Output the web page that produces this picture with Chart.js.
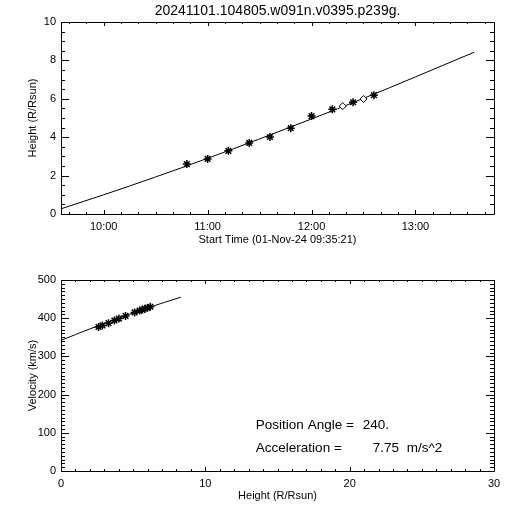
<!DOCTYPE html>
<html>
<head>
<meta charset="utf-8">
<script src="https://cdn.jsdelivr.net/npm/chart.js@4.4.0/dist/chart.umd.min.js"></script>
<style>
html, body { margin: 0; padding: 0; background: #fff; }
#wrap { position: relative; width: 512px; height: 512px; }
.box { position: absolute; left: 0; width: 512px; height: 256px; }
</style>
</head>
<body>
<div id="wrap">
  <div class="box" style="top:0"><canvas id="ht"></canvas></div>
  <div class="box" style="top:256px"><canvas id="vh"></canvas></div>
</div>
<script>
// --- data ---
const plotTitle = '20241101.104805.w091n.v0395.p239g.';
const startTime = '09:35:21';
const endTime = '13:45:21';

// height-time measurements (asterisks)
const obsTimes = ['10:48', '11:00', '11:12', '11:24', '11:36', '11:48', '12:00', '12:12', '12:24', '12:36'];
const obsHeights = [2.60, 2.87, 3.29, 3.70, 4.01, 4.47, 5.10, 5.45, 5.82, 6.19];
// diamonds
const extraTimes = ['12:18', '12:30'];
const extraHeights = [5.62, 5.99];
// fitted curve
const fitTimes = ['09:35:21', '10:00', '10:30', '11:00', '11:30', '12:00', '12:30', '13:00', '13:34'];
const fitHeights = [0.27, 1.00, 1.93, 2.90, 3.91, 4.95, 6.02, 7.14, 8.43];

// velocity vs height
const velHeights = [2.60, 2.87, 3.29, 3.70, 4.01, 4.47, 5.10, 5.45, 5.62, 5.82, 5.99, 6.19];
const velValues = [377, 381, 387, 394, 399, 406, 415, 420, 422, 425, 427, 430];
const velFitHeights = [0, 2, 4, 6, 8.3];
const velFitValues = [342, 372, 400, 427, 455];

const positionAngle = '240.';
const acceleration = '7.75';

// minutes since midnight
function toMin(s) {
    const p = s.split(':').map(Number);
    return p[0] * 60 + p[1] + (p[2] || 0) / 60;
}
function hhmm(v) {
    const h = Math.floor(v / 60), m = Math.round(v - h * 60);
    return String(h).padStart(2, '0') + ':' + String(m).padStart(2, '0');
}

const FONT = 'Liberation Sans, Arial, sans-serif';
const f11 = { family: FONT, size: 11, lineHeight: 1.2 };

// IDL style box with inward ticks on all four sides
const idlBox = {
    id: 'idlBox',
    afterDatasetsDraw(chart, args, o) {
        const { ctx, chartArea: a, scales: { x, y } } = chart;
        ctx.save();
        ctx.strokeStyle = '#000';
        ctx.lineWidth = 1;
        ctx.beginPath();
        ctx.rect(a.left + 0.5, a.top + 0.5, a.right - a.left, a.bottom - a.top);
        const marks = (scale, step, len, horiz) => {
            const n0 = Math.ceil(scale.min / step - 1e-6), n1 = Math.floor(scale.max / step + 1e-6);
            for (let n = n0; n <= n1; n++) {
                const p = Math.round(scale.getPixelForValue(n * step)) + 0.5;
                if (horiz) {
                    ctx.moveTo(p, a.bottom); ctx.lineTo(p, a.bottom - len);
                    ctx.moveTo(p, a.top); ctx.lineTo(p, a.top + len);
                } else {
                    ctx.moveTo(a.left, p); ctx.lineTo(a.left + len, p);
                    ctx.moveTo(a.right, p); ctx.lineTo(a.right - len, p);
                }
            }
        };
        marks(x, o.xMajor, 4, true);
        marks(x, o.xMinor, 2, true);
        marks(y, o.yMajor, 8, false);
        marks(y, o.yMinor, 4, false);
        ctx.stroke();
        ctx.restore();
    }
};

// annotation text in the lower panel
const notes = {
    id: 'notes',
    afterDraw(chart, args, o) {
        if (!o.items) return;
        const { ctx, scales: { x, y } } = chart;
        ctx.save();
        ctx.fillStyle = '#000';
        ctx.font = '13.5px ' + FONT;
        ctx.textBaseline = 'middle';
        o.items.forEach(l => ctx.fillText(l.text, x.getPixelForValue(l.x), y.getPixelForValue(l.y)));
        ctx.restore();
    }
};

const common = {
    responsive: true,
    maintainAspectRatio: false,
    animation: false,
    events: [],
    plugins: { legend: { display: false }, tooltip: { enabled: false } }
};
const noGrid = { display: false, drawTicks: false };

new Chart(document.getElementById('ht'), {
    type: 'scatter',
    data: {
        datasets: [{
            data: obsTimes.map((t, i) => ({ x: toMin(t), y: obsHeights[i] })),
            pointStyle: 'star', pointRadius: 4, borderWidth: 1.5, borderColor: '#000', order: 0
        }, {
            data: extraTimes.map((t, i) => ({ x: toMin(t), y: extraHeights[i] })),
            pointStyle: 'rectRot', pointRadius: 3.5, borderWidth: 1, borderColor: '#000', backgroundColor: '#fff', order: 0
        }, {
            type: 'line',
            data: fitTimes.map((t, i) => ({ x: toMin(t), y: fitHeights[i] })),
            borderColor: '#000', borderWidth: 1, pointRadius: 0, cubicInterpolationMode: 'monotone', order: 1
        }]
    },
    options: {
        ...common,
        layout: { padding: { top: 0, right: 18, left: 0, bottom: 0 } },
        plugins: {
            ...common.plugins,
            title: {
                display: true, text: plotTitle, color: '#000', fullSize: false,
                font: { family: FONT, size: 14, weight: 'normal', lineHeight: 1.2 }, padding: { top: 2.5, bottom: 2.7 }
            },
            idlBox: { xMajor: 60, xMinor: 10, yMajor: 2, yMinor: 0.5 }
        },
        scales: {
            x: {
                type: 'linear', min: toMin(startTime), max: toMin(endTime),
                grid: noGrid, border: { display: false },
                ticks: { stepSize: 60, includeBounds: false, callback: v => hhmm(v), color: '#000', font: f11, padding: 6, maxRotation: 0 },
                title: { display: true, text: 'Start Time (01-Nov-24 ' + startTime + ')', color: '#000', font: f11, padding: { top: 0, bottom: 9.4 } },
                afterFit: s => { s.height = 42; }
            },
            y: {
                min: 0, max: 10,
                grid: noGrid, border: { display: false },
                ticks: { stepSize: 2, color: '#000', font: f11, padding: 5 },
                title: { display: true, text: 'Height (R/Rsun)', color: '#000', font: f11, padding: { top: 26.4, bottom: 0 } },
                afterFit: s => { s.width = 61; }
            }
        }
    },
    plugins: [idlBox]
});

new Chart(document.getElementById('vh'), {
    type: 'scatter',
    data: {
        datasets: [{
            data: velHeights.map((h, i) => ({ x: h, y: velValues[i] })),
            pointStyle: 'star', pointRadius: 4, borderWidth: 1.5, borderColor: '#000', order: 0
        }, {
            type: 'line',
            data: velFitHeights.map((h, i) => ({ x: h, y: velFitValues[i] })),
            borderColor: '#000', borderWidth: 1, pointRadius: 0, cubicInterpolationMode: 'monotone', order: 1
        }]
    },
    options: {
        ...common,
        layout: { padding: { top: 24, right: 18, left: 0, bottom: 0 } },
        plugins: {
            ...common.plugins,
            idlBox: { xMajor: 10, xMinor: 1, yMajor: 100, yMinor: 10 },
            notes: {
                items: [
                    { text: 'Position Angle =', x: 13.5, y: 120 },
                    { text: positionAngle, x: 20.9, y: 120 },
                    { text: 'Acceleration =', x: 13.5, y: 60 },
                    { text: acceleration, x: 21.6, y: 60 },
                    { text: 'm/s^2', x: 23.95, y: 60 }
                ]
            }
        },
        scales: {
            x: {
                type: 'linear', min: 0, max: 30,
                grid: noGrid, border: { display: false },
                ticks: { stepSize: 10, color: '#000', font: f11, padding: 6, maxRotation: 0 },
                title: { display: true, text: 'Height (R/Rsun)', color: '#000', font: f11, padding: { top: 0, bottom: 9.7 } },
                afterFit: s => { s.height = 41; }
            },
            y: {
                min: 0, max: 500,
                grid: noGrid, border: { display: false },
                ticks: { stepSize: 100, color: '#000', font: f11, padding: 5 },
                title: { display: true, text: 'Velocity (km/s)', color: '#000', font: f11, padding: { top: 26.4, bottom: 0 } },
                afterFit: s => { s.width = 61; }
            }
        }
    },
    plugins: [idlBox, notes]
});
</script>
</body>
</html>
